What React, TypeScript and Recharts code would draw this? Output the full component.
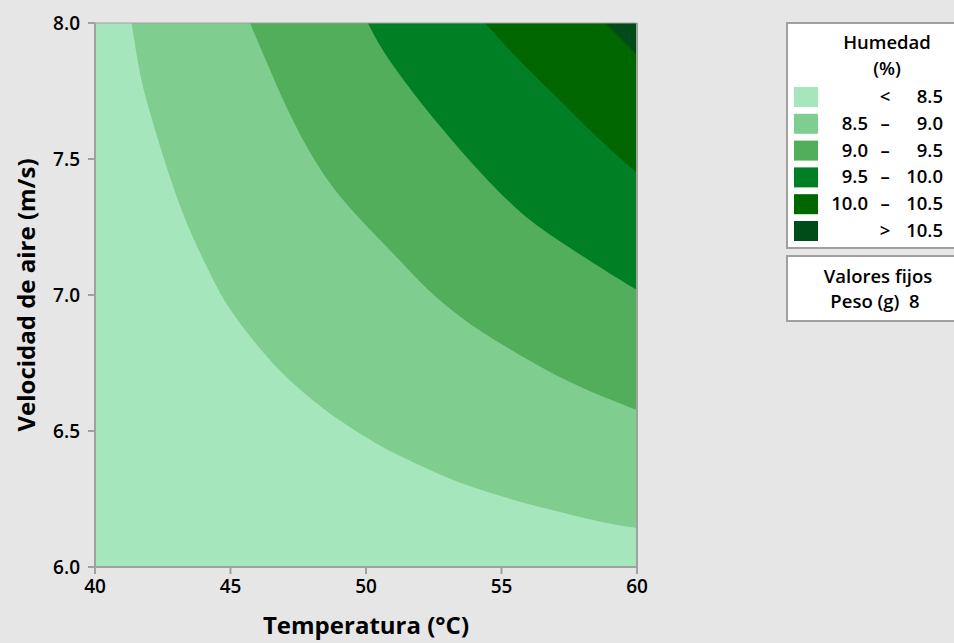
import React from 'react';
import { ComposedChart, Area, XAxis, YAxis, ReferenceLine } from 'recharts';

// ---- data ----
const xTicks = [40, 45, 50, 55, 60];
const yTicks = [6.0, 6.5, 7.0, 7.5, 8.0];
const levelColors = ['#a6e6bd', '#80cd90', '#52ae5a', '#007f24', '#006600', '#004c19'];
const legendRows: [string, string, string][] = [
  ['', '<', '8.5'],
  ['8.5', '–', '9.0'],
  ['9.0', '–', '9.5'],
  ['9.5', '–', '10.0'],
  ['10.0', '–', '10.5'],
  ['', '>', '10.5'],
];

// plot background (lowest band), corners of the domain
const band0: [number, number][] = [[40, 6.0], [60, 6.0]];
// contour lines (x = temperature, y = air velocity)
const contour85: [number, number][] = [
  [41.35, 8.0], [41.62, 7.827], [41.88, 7.717], [42.77, 7.423], [43.51, 7.228],
  [44.24, 7.081], [44.72, 6.982], [45.61, 6.86], [46.72, 6.724], [48.41, 6.577],
  [50.15, 6.467], [51.0, 6.419], [52.73, 6.338], [54.21, 6.283], [55.68, 6.239],
  [57.16, 6.202], [58.63, 6.165], [60, 6.143],
];
const contour90: [number, number][] = [
  [45.72, 8.0], [46.3, 7.864], [47.2, 7.654], [48.41, 7.434], [49.78, 7.276],
  [51.0, 7.154], [52.25, 7.018], [53.47, 6.919], [54.32, 6.86], [56.16, 6.75],
  [57.9, 6.658], [60, 6.577],
];
const contour95: [number, number][] = [
  [50.07, 8.0], [50.52, 7.912], [51.37, 7.79], [52.73, 7.618], [54.21, 7.449],
  [55.68, 7.301], [56.68, 7.228], [58.3, 7.122], [60, 7.018],
];
const contour100: [number, number][] = [
  [54.39, 8.0], [55.68, 7.857], [57.16, 7.717], [58.52, 7.577], [60, 7.449],
];
const contour105: [number, number][] = [
  [58.82, 8.0], [60, 7.882],
];

const Y_TOP = 8.0;
const bands = [band0, contour85, contour90, contour95, contour100, contour105];

// build a table: each band is the range [contour, top]
const rowMap = new Map<number, any>();
bands.forEach((pts, i) => {
  pts.forEach(([x, y]) => {
    if (!rowMap.has(x)) rowMap.set(x, { x });
    rowMap.get(x)[`b${i}`] = [y, Y_TOP];
  });
});
const data = Array.from(rowMap.values()).sort((a, b) => a.x - b.x);
data.forEach((r) => {
  bands.forEach((_, i) => {
    if (!(`b${i}` in r)) r[`b${i}`] = null;
  });
});

const FONT = '"Open Sans", "Noto Sans", sans-serif';
const AXIS_GRAY = '#a0a0a0';

const YTitle = (props: any) => {
  const vb = props.viewBox || {};
  const cx = vb.x + 25;
  const cy = vb.y + vb.height / 2;
  return (
    <text x={cx} y={cy} transform={`rotate(-90 ${cx} ${cy})`} textAnchor="middle" dominantBaseline="central"
      fontFamily={FONT} fontWeight={700} fontSize={24} fill="#000">
      Velocidad de aire (m/s)
    </text>
  );
};

const XTitle = (props: any) => {
  const vb = props.viewBox || {};
  const cx = vb.x + vb.width / 2;
  const cy = vb.y + 57;
  return (
    <text x={cx} y={cy} textAnchor="middle" dominantBaseline="central"
      fontFamily={FONT} fontWeight={700} fontSize={24} fill="#000">
      Temperatura (°C)
    </text>
  );
};

const LegendOverlay = () => {
  const rowTop = 87;
  const rowStep = 26.8;
  return (
    <svg width={954} height={643} style={{ position: 'absolute', left: 0, top: 0, pointerEvents: 'none' }}>
      <g fontFamily={FONT} fontWeight={600} fontSize={18.5} fill="#000">
        <rect x={787} y={23} width={200} height={225} fill="#fff" stroke={AXIS_GRAY} strokeWidth={2} />
        <text x={887} y={49} textAnchor="middle">Humedad</text>
        <text x={887} y={75} textAnchor="middle">(%)</text>
        {legendRows.map((r, i) => {
          const y = rowTop + i * rowStep;
          return (
            <g key={i}>
              <rect x={794} y={y} width={24} height={20} fill={levelColors[i]} />
              <text x={868} y={y + 16} textAnchor="end">{r[0]}</text>
              <text x={885} y={y + 16} textAnchor="middle">{r[1]}</text>
              <text x={943} y={y + 16} textAnchor="end">{r[2]}</text>
            </g>
          );
        })}
        <rect x={787} y={256} width={200} height={65} fill="#fff" stroke={AXIS_GRAY} strokeWidth={2} />
        <text x={878} y={283} textAnchor="middle">Valores fijos</text>
        <text x={875} y={308} textAnchor="middle">{'Peso (g)\u00a0 8'}</text>
      </g>
    </svg>
  );
};

export default function App() {
  return (
    <div style={{ position: 'absolute', left: 0, top: 0, width: 954, height: 643, background: '#e6e6e6', overflow: 'hidden' }}>
      <ComposedChart width={954} height={643} data={data} margin={{ top: 23, right: 317, bottom: 0, left: 0 }}>
        <XAxis
          dataKey="x"
          type="number"
          domain={[40, 60]}
          ticks={xTicks}
          allowDataOverflow
          height={76}
          stroke={AXIS_GRAY}
          strokeWidth={2}
          tickSize={7}
          tickMargin={6}
          tick={{ fill: '#000', fontFamily: FONT, fontWeight: 600, fontSize: 19 }}
          label={<XTitle />}
        />
        <YAxis
          type="number"
          domain={[6, 8]}
          ticks={yTicks}
          allowDataOverflow
          width={95}
          stroke={AXIS_GRAY}
          strokeWidth={2}
          tickSize={7}
          tickMargin={8}
          tickFormatter={(v: number) => v.toFixed(1)}
          tick={{ fill: '#000', fontFamily: FONT, fontWeight: 600, fontSize: 19 }}
          label={<YTitle />}
        />
        {bands.map((_, i) => (
          <Area
            key={i}
            type="basis"
            dataKey={`b${i}`}
            stroke="none"
            fill={levelColors[i]}
            fillOpacity={1}
            connectNulls
            dot={false}
            activeDot={false}
            isAnimationActive={false}
          />
        ))}
        <ReferenceLine x={60} stroke={AXIS_GRAY} strokeWidth={2} />
        <ReferenceLine y={8} stroke={AXIS_GRAY} strokeWidth={1} />
      </ComposedChart>
      <LegendOverlay />
    </div>
  );
}
